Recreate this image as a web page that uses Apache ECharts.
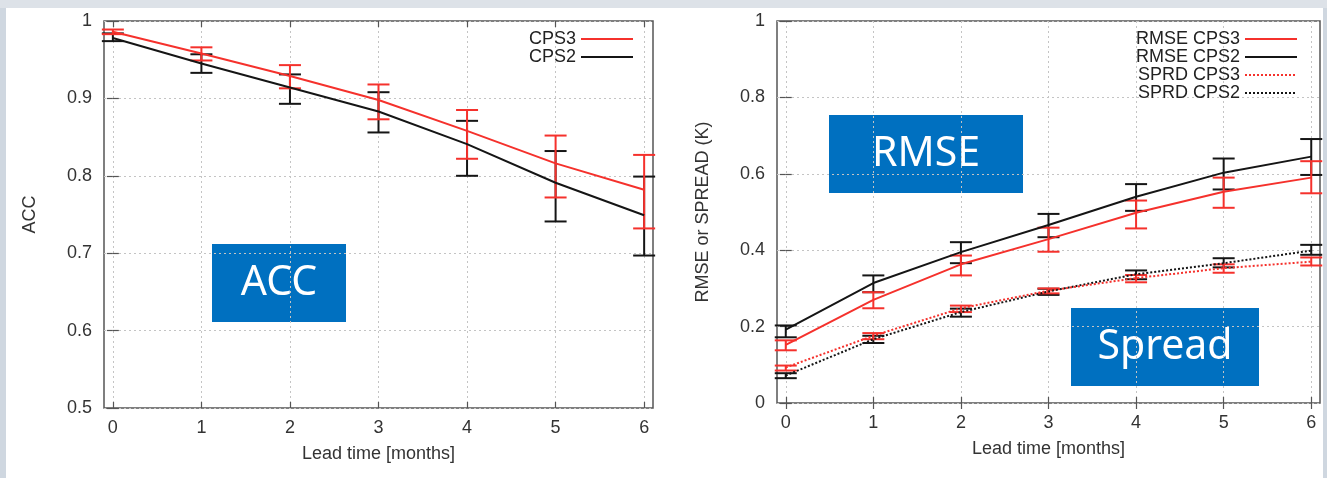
<!DOCTYPE html>
<html>
<head>
  <meta charset="utf-8">
  <title>ACC / RMSE / Spread</title>
  <script src="https://cdn.jsdelivr.net/npm/echarts@6/dist/echarts.min.js"></script>
  <style>
    html, body { margin: 0; padding: 0; background: #cfd7e0; }
    #main { width: 1327px; height: 478px; }
  </style>
</head>
<body>
<div id="main"></div>
<script>
// lead time in months
var leadTime = [0, 1, 2, 3, 4, 5, 6];

// left panel: ACC
var accCps3   = [0.986, 0.958, 0.929, 0.898, 0.858, 0.816, 0.782];
var accCps3Lo = [0.983, 0.949, 0.913, 0.873, 0.822, 0.772, 0.732];
var accCps3Hi = [0.989, 0.966, 0.943, 0.918, 0.885, 0.852, 0.827];
var accCps2   = [0.978, 0.945, 0.914, 0.883, 0.841, 0.791, 0.749];
var accCps2Lo = [0.974, 0.933, 0.893, 0.856, 0.800, 0.741, 0.697];
var accCps2Hi = [0.984, 0.957, 0.931, 0.908, 0.871, 0.832, 0.799];

// right panel: RMSE and spread (K)
var rmseCps3   = [0.152, 0.270, 0.363, 0.429, 0.498, 0.553, 0.590];
var rmseCps3Lo = [0.138, 0.248, 0.334, 0.396, 0.457, 0.511, 0.549];
var rmseCps3Hi = [0.164, 0.290, 0.386, 0.459, 0.530, 0.590, 0.633];
var rmseCps2   = [0.192, 0.314, 0.395, 0.466, 0.540, 0.603, 0.645];
var rmseCps2Lo = [0.172, 0.290, 0.366, 0.434, 0.503, 0.559, 0.597];
var rmseCps2Hi = [0.203, 0.334, 0.421, 0.495, 0.573, 0.640, 0.691];
var sprdCps3   = [0.093, 0.176, 0.248, 0.294, 0.327, 0.353, 0.370];
var sprdCps3Lo = [0.085, 0.167, 0.238, 0.287, 0.316, 0.341, 0.360];
var sprdCps3Hi = [0.098, 0.183, 0.255, 0.300, 0.335, 0.363, 0.381];
var sprdCps2   = [0.072, 0.167, 0.238, 0.292, 0.337, 0.366, 0.399];
var sprdCps2Lo = [0.065, 0.157, 0.226, 0.283, 0.324, 0.355, 0.388];
var sprdCps2Hi = [0.078, 0.176, 0.247, 0.299, 0.347, 0.379, 0.414];

var RED = '#f5312c';
var BLK = '#151515';
var FONT = 'Liberation Sans';

function pairs(xs, ys) {
  return xs.map(function (x, i) { return [x, ys[i]]; });
}

function renderBar(params, api) {
  var x = api.value(0);
  var p1 = api.coord([x, api.value(1)]);
  var p2 = api.coord([x, api.value(2)]);
  var w = 11;
  var st = { stroke: api.visual('color'), lineWidth: 2 };
  return {
    type: 'group',
    children: [
      { type: 'line', shape: { x1: p1[0], y1: p1[1], x2: p2[0], y2: p2[1] }, style: st },
      { type: 'line', shape: { x1: p1[0] - w, y1: p1[1], x2: p1[0] + w, y2: p1[1] }, style: st },
      { type: 'line', shape: { x1: p2[0] - w, y1: p2[1], x2: p2[0] + w, y2: p2[1] }, style: st }
    ]
  };
}

function errBars(lo, hi, color, axis) {
  return {
    type: 'custom',
    xAxisIndex: axis, yAxisIndex: axis,
    renderItem: renderBar,
    clip: false,
    itemStyle: { color: color },
    encode: { x: 0, y: [1, 2] },
    data: leadTime.map(function (x, i) { return [x, lo[i], hi[i]]; }),
    z: 3
  };
}

function lineSeries(name, ys, color, type, axis) {
  return {
    name: name,
    type: 'line',
    xAxisIndex: axis, yAxisIndex: axis,
    data: pairs(leadTime, ys),
    symbol: 'none',
    lineStyle: { color: color, width: 2, type: type },
    itemStyle: { color: color },
    z: 4
  };
}

var tickStyle = { show: true, inside: true, length: 6, lineStyle: { color: '#555', width: 1.2 } };
var gridLine = { show: true, lineStyle: { color: '#c4c4c4', type: [2, 3], width: 1 } };
var labelStyle = { color: '#333', fontFamily: FONT, fontSize: 18 };

function xBottom(grid) {
  return {
    type: 'value', gridIndex: grid, min: -0.1, max: 6.1,
    axisLine: { show: false },
    axisTick: Object.assign({ customValues: leadTime }, tickStyle),
    axisLabel: Object.assign({ customValues: leadTime, margin: 11 }, labelStyle),
    splitLine: gridLine,
    name: 'Lead time [months]', nameLocation: 'middle', nameGap: 37,
    nameTextStyle: labelStyle
  };
}
function xTop(grid) {
  return {
    type: 'value', gridIndex: grid, position: 'top', min: -0.1, max: 6.1,
    axisLine: { show: false },
    axisTick: Object.assign({ customValues: leadTime }, tickStyle),
    axisLabel: { show: false }, splitLine: { show: false }
  };
}
function yLeft(grid, min, max, step, name) {
  return {
    type: 'value', gridIndex: grid, min: min, max: max, interval: step,
    axisLine: { show: false },
    axisTick: tickStyle,
    axisLabel: Object.assign({ margin: 12 }, labelStyle),
    splitLine: gridLine,
    name: name, nameLocation: 'middle', nameGap: 65, nameRotate: 90,
    nameTextStyle: labelStyle
  };
}
function yRight(grid, min, max, step) {
  return {
    type: 'value', gridIndex: grid, position: 'right', min: min, max: max, interval: step,
    axisLine: { show: false }, axisTick: tickStyle,
    axisLabel: { show: false }, splitLine: { show: false }
  };
}

function boxLabel(x, y, w, h, txt) {
  return {
    type: 'group', x: x, y: y, z: 10,
    children: [
      { type: 'rect', shape: { width: w, height: h }, style: { fill: '#0070c0' } },
      { type: 'text', x: w / 2, y: h / 2,
        style: { text: txt, fill: '#fff', font: '41px "Noto Sans"', align: 'center', verticalAlign: 'middle' } }
    ]
  };
}

var myChart = echarts.init(document.getElementById('main'));

var legendText = { color: '#222', fontFamily: FONT, fontSize: 18, lineHeight: 14 };

var option = {
  animation: false,
  backgroundColor: '#cfd7e0',
  graphic: [
    { type: 'rect', z: -10, shape: { x: 6, y: 8, width: 1317, height: 470 }, style: { fill: '#fff' } },
    { type: 'rect', z: -10, shape: { x: 0, y: 0, width: 1327, height: 8 }, style: { fill: '#dde2e8' } },
    boxLabel(212, 244, 134, 78, 'ACC'),
    boxLabel(829, 115, 194, 78, 'RMSE'),
    boxLabel(1071, 308, 188, 78, 'Spread')
  ],
  grid: [
    { left: 104, top: 21, width: 549, height: 387, show: true, borderColor: '#555', borderWidth: 1.5, backgroundColor: 'transparent' },
    { left: 777, top: 21, width: 543, height: 382, show: true, borderColor: '#555', borderWidth: 1.5, backgroundColor: 'transparent' }
  ],
  xAxis: [xBottom(0), xTop(0), xBottom(1), xTop(1)],
  yAxis: [
    yLeft(0, 0.5, 1, 0.1, 'ACC'),
    yRight(0, 0.5, 1, 0.1),
    yLeft(1, 0, 1, 0.2, 'RMSE or SPREAD (K)'),
    yRight(1, 0, 1, 0.2)
  ],
  legend: [
    {
      data: ['CPS3', 'CPS2'], orient: 'vertical', align: 'right',
      right: 693, top: 30, padding: 0, itemGap: 0, itemWidth: 52, itemHeight: 14,
      itemStyle: { opacity: 0 },
      selectedMode: false, textStyle: legendText
    },
    {
      data: ['RMSE CPS3', 'RMSE CPS2', 'SPRD CPS3', 'SPRD CPS2'], orient: 'vertical', align: 'right',
      right: 29, top: 30, padding: 0, itemGap: 0, itemWidth: 52, itemHeight: 14,
      itemStyle: { opacity: 0 },
      selectedMode: false, textStyle: legendText
    }
  ],
  series: [
    // ACC
    errBars(accCps2Lo, accCps2Hi, BLK, 0),
    errBars(accCps3Lo, accCps3Hi, RED, 0),
    lineSeries('CPS2', accCps2, BLK, 'solid', 0),
    lineSeries('CPS3', accCps3, RED, 'solid', 0),
    // RMSE / spread
    errBars(sprdCps2Lo, sprdCps2Hi, BLK, 2),
    errBars(sprdCps3Lo, sprdCps3Hi, RED, 2),
    errBars(rmseCps2Lo, rmseCps2Hi, BLK, 2),
    errBars(rmseCps3Lo, rmseCps3Hi, RED, 2),
    lineSeries('SPRD CPS2', sprdCps2, BLK, 'dotted', 2),
    lineSeries('SPRD CPS3', sprdCps3, RED, 'dotted', 2),
    lineSeries('RMSE CPS2', rmseCps2, BLK, 'solid', 2),
    lineSeries('RMSE CPS3', rmseCps3, RED, 'solid', 2)
  ]
};

myChart.setOption(option);
</script>
</body>
</html>
